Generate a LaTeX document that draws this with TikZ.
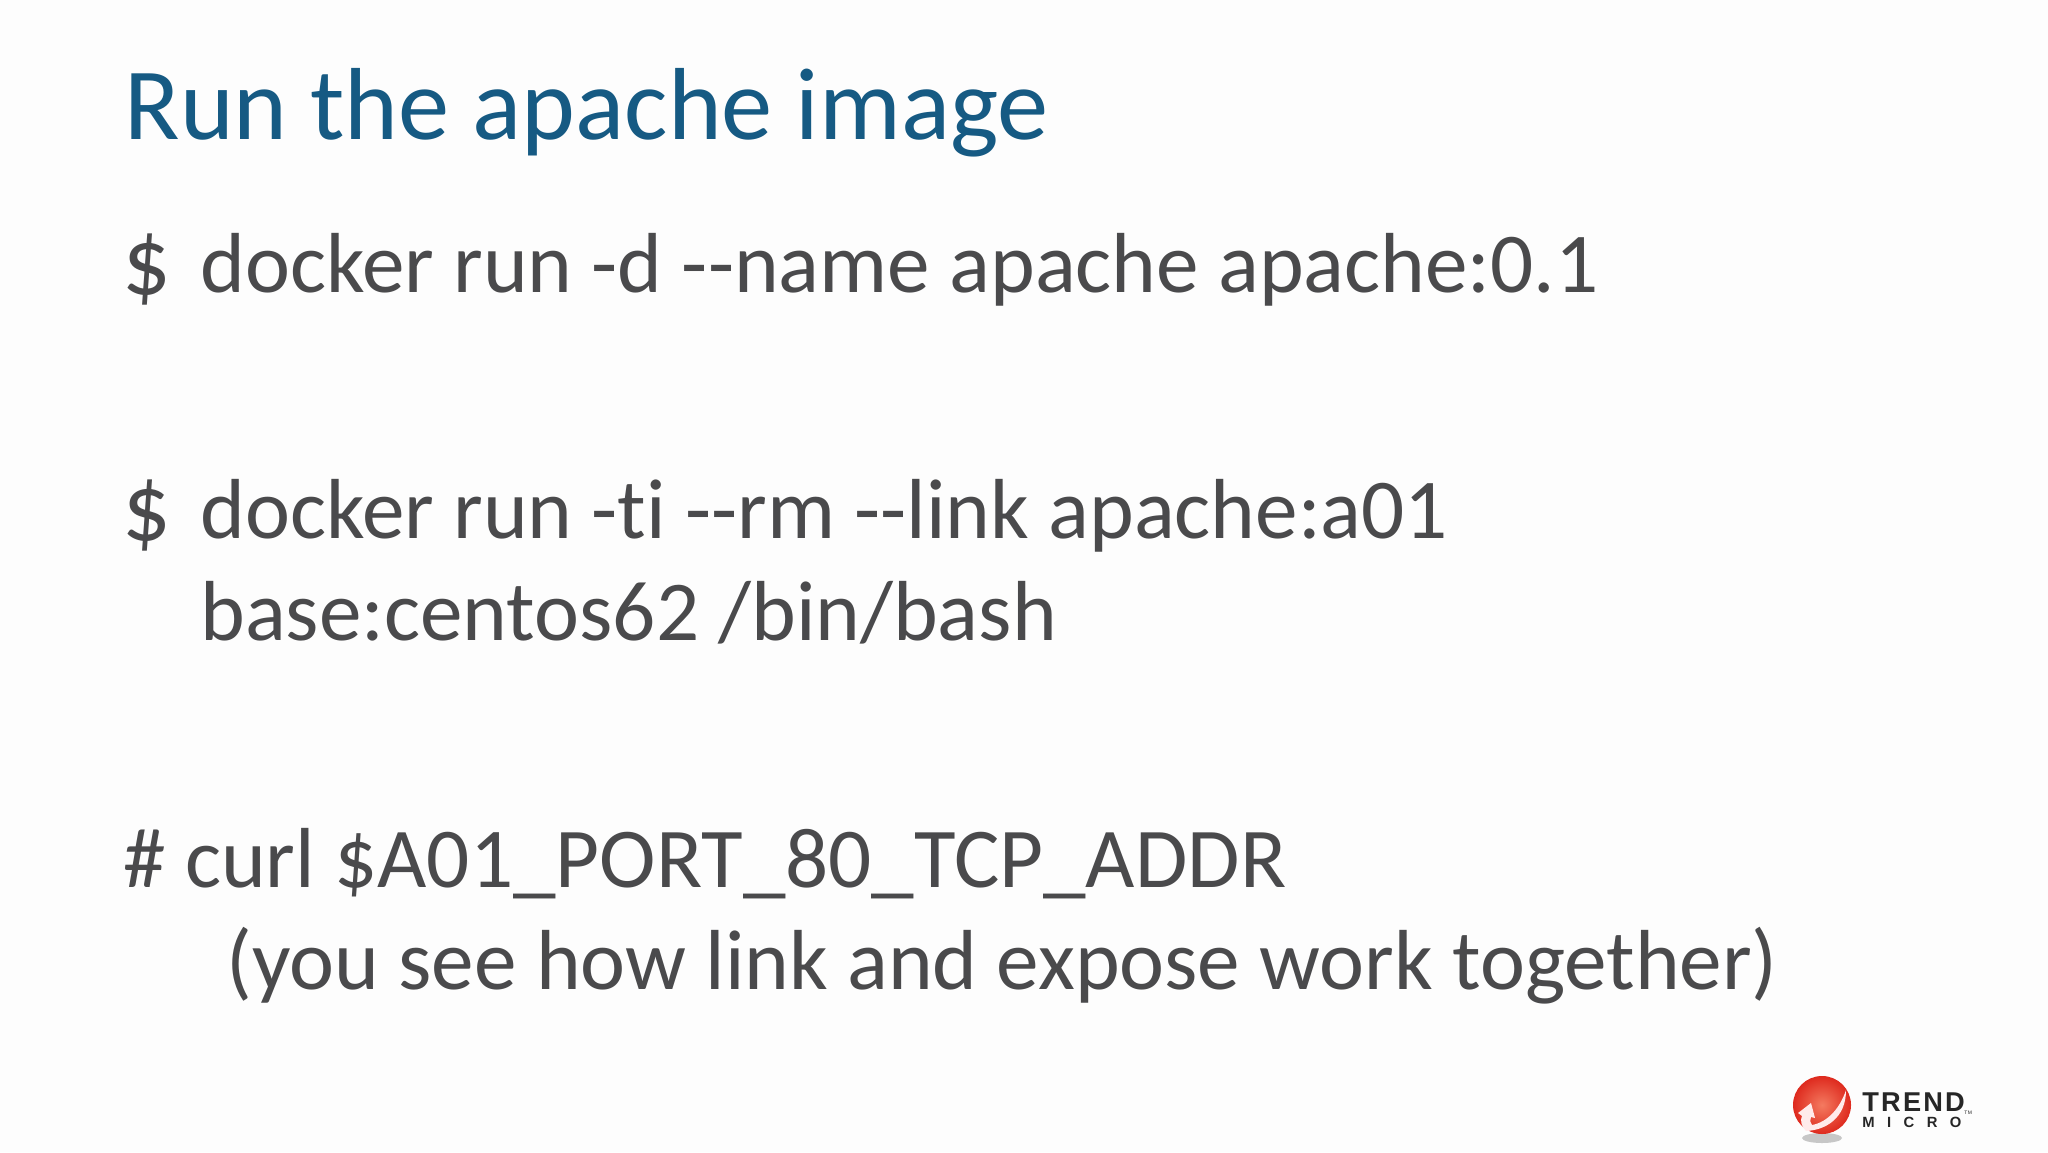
\documentclass[tikz,border=0pt]{standalone}
\usepackage{fontspec}
\setmainfont{Carlito}
\newfontfamily\logofont[LetterSpace=8]{Liberation Sans}
\usetikzlibrary{shadings}
\definecolor{titleblue}{HTML}{165A83}
\definecolor{bodygrey}{HTML}{4A4A4C}
\definecolor{backwhite}{HTML}{FDFDFD}
\definecolor{logored}{HTML}{DE2A1E}
\definecolor{logolight}{HTML}{F47A60}
\begin{document}
\begin{tikzpicture}[x=0.5pt,y=-0.5pt]
  \tikzset{title/.style = {anchor=base west,inner sep=0pt,text=titleblue,font=\fontsize{51.2}{51}\selectfont}}
  \tikzset{line/.style = {anchor=base west,inner sep=0pt,text=bodygrey,font=\fontsize{42.6}{43}\selectfont}}
  \tikzset{prompt/.style = {line,font=\fontsize{48}{48}\selectfont}}
  \tikzset{logotext/.style = {anchor=base west,inner sep=0pt,text=black!85}}

  \fill[backwhite] (0,0) rectangle (2048,1152);
  \useasboundingbox (0,0) rectangle (2048,1152);

  \node[title] (T) at (124,139) {Run the apache image};

  \node[prompt] (D1) at (122,294) {\$};
  \node[line] (C1) at (200,292) {docker run -d -{}-name apache apache:0.1};
  \node[prompt] (D2) at (122,540) {\$};
  \node[line] (C2) at (200,538) {docker run -t\kern0pt i -{}-rm -{}-link apache:a01};
  \node[line] (C3) at (200,640) {base:centos62 /bin/bash};
  \node[line] (C4) at (123,887) {\# curl \$A01\_PORT\_80\_TCP\_ADDR};
  \node[line] (C5) at (226,989) {(you see how link and expose work together)};

  % logo
  \fill[black!22] (1822,1138) ellipse (20 and 5);
  \shade[inner color=logolight,outer color=logored] (1822,1105) circle (29);
  \fill[white!92!red] (1846,1090) .. controls (1846,1118) and (1826,1130) .. (1806,1131)
    .. controls (1801,1126) and (1800,1120) .. (1802,1116)
    -- (1798,1113) -- (1811,1103) -- (1815,1118) -- (1811,1117)
    .. controls (1810,1121) and (1810,1123) .. (1812,1125)
    .. controls (1828,1122) and (1840,1108) .. (1846,1090) -- cycle;
  \node[logotext,font=\logofont\bfseries\fontsize{13.6}{13.5}\selectfont] (LT) at (1862,1111) {TREND};
  \node[logotext,font=\logofont\bfseries\fontsize{7.4}{7.5}\selectfont] (LM) at (1862,1127) {M\hspace{6.2pt}I\hspace{6.2pt}C\hspace{6.2pt}R\hspace{6.2pt}O};
  \node[logotext,font=\logofont\fontsize{2.5}{3}\selectfont] (LTM) at (1964,1114) {TM};
\end{tikzpicture}
\end{document}
